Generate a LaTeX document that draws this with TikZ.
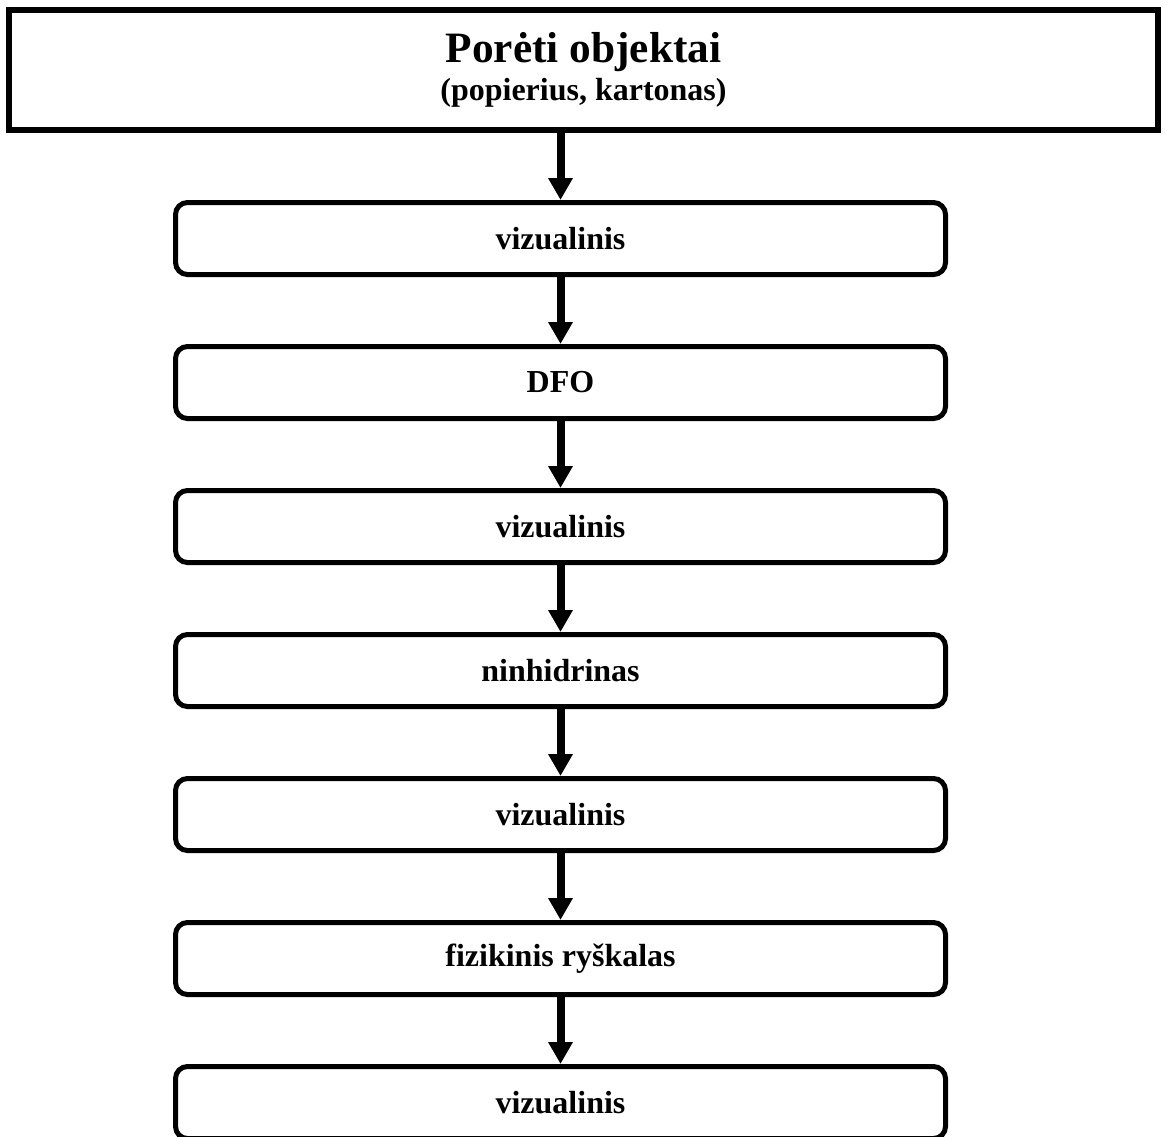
\documentclass[tikz,border=0pt]{standalone}
\usepackage{fontspec}
\setmainfont{Liberation Serif}
\usepackage{tikz}
\usetikzlibrary{arrows.meta, positioning}

\begin{document}
\begin{tikzpicture}[
        node distance=50.25pt,
        hdr/.style={draw, line width=4.5pt, minimum width=861.75pt, minimum height=90pt,
            inner sep=0pt, align=center, font=\fontsize{24pt}{28.5pt}\selectfont\bfseries},
        s/.style={draw, line width=3.75pt, rounded corners=9pt, minimum width=577.5pt,
            minimum height=54pt, inner sep=0pt, align=center,
            font=\fontsize{24pt}{28pt}\selectfont\bfseries},
        rel/.style={line width=6pt, -{Triangle[length=16.5pt, width=17.5pt]}}
    ]
        \useasboundingbox (0pt,0pt) rectangle (875.25pt,-852pt);
        \node[hdr] (t) at (437.625pt,-52.5pt)
            {{\fontsize{32.5pt}{28.5pt}\selectfont Porėti objektai}\\
             (popierius, kartonas)};
        \node[s, below=of t, xshift=-17.25pt] (a) {vizualinis};
        \node[s, below=of a] (b) {DFO};
        \node[s, below=of b] (c) {vizualinis};
        \node[s, below=of c] (d) {ninhidrinas};
        \node[s, below=of d] (e) {vizualinis};
        \node[s, below=of e] (f) {fizikinis ryškalas};
        \node[s, below=of f] (g) {vizualinis};
        \draw[rel] (a.north |- t.south) -- (a);
        \draw[rel] (a) -- (b); \draw[rel] (b) -- (c); \draw[rel] (c) -- (d);
        \draw[rel] (d) -- (e); \draw[rel] (e) -- (f); \draw[rel] (f) -- (g);
    \end{tikzpicture}
\end{document}
